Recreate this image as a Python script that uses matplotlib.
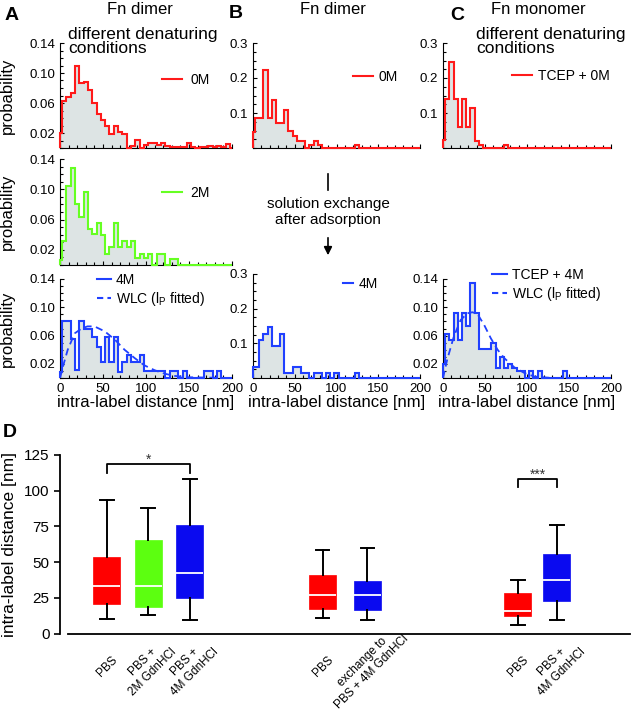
import numpy as np
import matplotlib
matplotlib.use("Agg")
import matplotlib.pyplot as plt
from matplotlib.lines import Line2D
from matplotlib.patches import FancyArrowPatch
from matplotlib.ticker import MultipleLocator, FormatStrFormatter

plt.rcParams['font.family'] = 'Liberation Sans'
plt.rcParams['mathtext.fontset'] = 'custom'
plt.rcParams['mathtext.rm'] = 'Liberation Sans'

# histogram values, bins centred on 0, 5, 10, ... 200 nm
hist_a_0m = [0.020, 0.063, 0.068, 0.073, 0.109, 0.087, 0.088, 0.078, 0.060, 0.046,
             0.037, 0.029, 0.019, 0.029, 0.022, 0.019, 0.000, 0.003, 0.011, 0.000,
             0.004, 0.007, 0.007, 0.004, 0.007, 0.003, 0.002, 0.001, 0.001, 0.001,
             0.007, 0.001, 0.000, 0.001, 0.002, 0.003, 0.001, 0.003, 0.002, 0.006,
             0.000]
hist_a_2m = [0.007, 0.032, 0.105, 0.128, 0.080, 0.064, 0.097, 0.048, 0.041, 0.056,
             0.040, 0.015, 0.024, 0.056, 0.024, 0.032, 0.024, 0.032, 0.009, 0.015,
             0.009, 0.015, 0.000, 0.015, 0.015, 0.000, 0.008, 0.008, 0.000, 0.000,
             0.000, 0.000, 0.000, 0.000, 0.000, 0.000, 0.000, 0.000, 0.000, 0.000,
             0.000]
hist_a_4m = [0.009, 0.080, 0.080, 0.055, 0.011, 0.080, 0.069, 0.069, 0.058, 0.044,
             0.022, 0.058, 0.022, 0.058, 0.009, 0.022, 0.033, 0.022, 0.022, 0.033,
             0.010, 0.010, 0.010, 0.010, 0.010, 0.000, 0.010, 0.010, 0.000, 0.010,
             0.000, 0.000, 0.000, 0.000, 0.010, 0.010, 0.000, 0.010, 0.000, 0.000,
             0.000]
hist_b_0m = [0.045, 0.086, 0.086, 0.222, 0.086, 0.136, 0.071, 0.071, 0.110, 0.048,
             0.033, 0.019, 0.019, 0.000, 0.008, 0.019, 0.008, 0.000, 0.000, 0.000,
             0.000, 0.000, 0.000, 0.000, 0.000, 0.008, 0.000, 0.000, 0.000, 0.000,
             0.000, 0.000, 0.000, 0.000, 0.000, 0.000, 0.000, 0.000, 0.000, 0.000,
             0.000]
hist_b_4m = [0.033, 0.033, 0.110, 0.128, 0.147, 0.093, 0.093, 0.128, 0.013, 0.013,
             0.033, 0.033, 0.013, 0.013, 0.000, 0.013, 0.013, 0.000, 0.013, 0.000,
             0.013, 0.000, 0.000, 0.000, 0.000, 0.013, 0.000, 0.000, 0.000, 0.000,
             0.000, 0.000, 0.000, 0.000, 0.000, 0.000, 0.000, 0.000, 0.000, 0.000,
             0.000]
hist_c_0m = [0.022, 0.140, 0.246, 0.140, 0.059, 0.140, 0.059, 0.114, 0.019, 0.008,
             0.000, 0.000, 0.000, 0.000, 0.000, 0.008, 0.000, 0.000, 0.000, 0.000,
             0.000, 0.000, 0.000, 0.000, 0.000, 0.000, 0.000, 0.000, 0.000, 0.000,
             0.000, 0.000, 0.000, 0.000, 0.000, 0.000, 0.000, 0.000, 0.000, 0.000,
             0.000]
hist_c_4m = [0.020, 0.062, 0.054, 0.092, 0.054, 0.092, 0.073, 0.134, 0.092, 0.041,
             0.041, 0.041, 0.049, 0.014, 0.030, 0.014, 0.020, 0.014, 0.010, 0.010,
             0.000, 0.010, 0.000, 0.010, 0.000, 0.000, 0.000, 0.000, 0.000, 0.010,
             0.000, 0.000, 0.000, 0.000, 0.000, 0.000, 0.000, 0.000, 0.000, 0.000,
             0.000]

# WLC fits
wlc_a_x = [0, 5, 9, 17, 25, 32, 40, 52, 64, 75, 87, 98, 110, 122, 133, 150, 200]
wlc_a_y = [0, 0.023, 0.040, 0.063, 0.070, 0.073, 0.073, 0.066, 0.054, 0.040,
           0.028, 0.018, 0.011, 0.006, 0.003, 0.001, 0]
wlc_c_x = [0, 5, 13, 21, 29, 35, 41, 49, 57, 65, 73, 85, 97, 109, 130, 200]
wlc_c_y = [0, 0.026, 0.059, 0.082, 0.0915, 0.093, 0.0906, 0.075, 0.056, 0.040,
           0.028, 0.015, 0.007, 0.002, 0, 0]

# panel D box plots
box_labels = ["PBS", "PBS +\n2M GdnHCl", "PBS +\n4M GdnHCl", "PBS",
              "exchange to\nPBS + 4M GdnHCl", "PBS", "PBS +\n4M GdnHCl"]
box_low = [10.0, 13.1, 9.3, 11.2, 9.3, 5.8, 9.3]
box_q1 = [20.8, 18.9, 24.7, 17.0, 16.6, 12.1, 22.9]
box_med = [33.3, 33.3, 42.7, 27.1, 27.3, 16.1, 37.3]
box_q3 = [53.4, 65.5, 76.0, 40.8, 37.1, 28.7, 55.5]
box_high = [93.5, 87.7, 108.2, 58.5, 59.7, 37.3, 76.0]

RED = '#ff1a1a'
GREEN = '#66ff22'
BLUE = '#2040ff'
FILL = '#dde4e4'
box_colors = ['#ff0000', '#5cff10', '#0a0af0', '#ff0000', '#0a0af0', '#ff0000', '#0a0af0']
box_pos = [1.0, 1.99, 3.0, 6.2, 7.27, 10.9, 11.84]

hist_edges = np.concatenate([[0], np.arange(2.5, 200, 5), [200]])

W, H = 633, 714
fig = plt.figure(figsize=(W / 100, H / 100), dpi=100)


def px_axes(left, top, right, bottom):
    return fig.add_axes([left / W, 1 - bottom / H, (right - left) / W, (bottom - top) / H])


def ftext(x, y, s, **kw):
    fig.text(x / W, 1 - y / H, s, **kw)


def hist_panel(ax, values, color, ymax, yticks, yminor, fmt, xlabels=False):
    ax.stairs(values, hist_edges, fill=True, color=FILL, lw=0)
    ax.stairs(values, hist_edges, color=color, lw=1.5, clip_on=False, zorder=3)
    ax.set_xlim(0, 200)
    ax.set_ylim(0, ymax)
    ax.spines[['top', 'right']].set_visible(False)
    ax.set_yticks(yticks)
    ax.yaxis.set_major_formatter(FormatStrFormatter(fmt))
    ax.yaxis.set_minor_locator(MultipleLocator(yminor))
    ax.set_xticks([0, 50, 100, 150, 200])
    ax.xaxis.set_minor_locator(MultipleLocator(10))
    ax.tick_params(which='both', direction='in', labelsize=9.5, length=3, width=0.8)
    ax.tick_params(which='minor', length=2)
    ax.patch.set_alpha(0)
    if xlabels:
        ax.set_xlabel('intra-label distance [nm]', fontsize=12)
    else:
        ax.tick_params(labelbottom=False)


def add_legend(ax, handles, x, y, hl, pad):
    ax.legend(handles=handles, loc='center left', bbox_to_anchor=(x, y), frameon=False,
              borderpad=0, borderaxespad=0, handlelength=hl, handletextpad=pad,
              labelspacing=0.25, fontsize=10)


def line_handle(color, label, dashed=False):
    return Line2D([], [], color=color, lw=1.5, ls=(0, (3, 2)) if dashed else '-', label=label)


wlc_label = r'WLC (l$_\mathrm{P}$ fitted)'

# ---- panel A
ax = px_axes(60, 43, 232, 148)
hist_panel(ax, hist_a_0m, RED, 0.14, [0.02, 0.06, 0.10, 0.14], 0.01, '%.2f')
ax.set_ylabel('probability', fontsize=12)
ax.yaxis.set_label_coords(-0.26, 0.5)
add_legend(ax, [line_handle(RED, '0M')], 0.593, 0.648, 1.45, 0.6)

ax = px_axes(60, 159, 232, 265)
hist_panel(ax, hist_a_2m, GREEN, 0.14, [0.02, 0.06, 0.10, 0.14], 0.01, '%.2f')
ax.set_ylabel('probability', fontsize=12)
ax.yaxis.set_label_coords(-0.26, 0.5)
add_legend(ax, [line_handle(GREEN, '2M')], 0.593, 0.682, 1.45, 0.6)

ax = px_axes(60, 279, 232, 378)
hist_panel(ax, hist_a_4m, BLUE, 0.14, [0.02, 0.06, 0.10, 0.14], 0.01, '%.2f', True)
ax.plot(wlc_a_x, wlc_a_y, color=BLUE, lw=1.3, ls=(0, (4, 2.5)), zorder=4)
ax.set_ylabel('probability', fontsize=12)
ax.yaxis.set_label_coords(-0.26, 0.5)
ax.xaxis.set_label_coords(0.5, -0.17)
add_legend(ax, [line_handle(BLUE, '4M'), line_handle(BLUE, wlc_label, True)],
           0.215, 0.884, 1.0, 0.35)

# ---- panel B
ax = px_axes(253, 43, 420, 148)
hist_panel(ax, hist_b_0m, RED, 0.3, [0.1, 0.2, 0.3], 0.025, '%.1f')
add_legend(ax, [line_handle(RED, '0M')], 0.599, 0.673, 1.45, 0.4)

ax = px_axes(253, 274, 420, 378)
hist_panel(ax, hist_b_4m, BLUE, 0.3, [0.1, 0.2, 0.3], 0.025, '%.1f', True)
ax.xaxis.set_label_coords(0.5, -0.163)
add_legend(ax, [line_handle(BLUE, '4M')], 0.539, 0.904, 0.75, 0.35)

# ---- panel C
ax = px_axes(443, 43, 611, 148)
hist_panel(ax, hist_c_0m, RED, 0.3, [0.1, 0.2, 0.3], 0.025, '%.1f')
add_legend(ax, [line_handle(RED, 'TCEP + 0M')], 0.41, 0.689, 1.45, 0.45)

ax = px_axes(443, 279, 611, 378)
hist_panel(ax, hist_c_4m, BLUE, 0.14, [0.02, 0.06, 0.10, 0.14], 0.01, '%.2f', True)
ax.plot(wlc_c_x, wlc_c_y, color=BLUE, lw=1.3, ls=(0, (4, 2.5)), zorder=4)
ax.xaxis.set_label_coords(0.5, -0.17)
add_legend(ax, [line_handle(BLUE, 'TCEP + 4M'), line_handle(BLUE, wlc_label, True)],
           0.29, 0.934, 1.1, 0.35)

# ---- titles and annotations
ftext(12, 15, 'A', fontsize=14, fontweight='bold', ha='center', va='center')
ftext(236, 14, 'B', fontsize=14, fontweight='bold', ha='center', va='center')
ftext(457, 15, 'C', fontsize=14, fontweight='bold', ha='center', va='center')
ftext(10, 433, 'D', fontsize=14, fontweight='bold', ha='center', va='center')
ftext(140, 9, 'Fn dimer', fontsize=12, ha='center', va='center')
ftext(333, 9, 'Fn dimer', fontsize=12, ha='center', va='center')
ftext(538, 9, 'Fn monomer', fontsize=12, ha='center', va='center')
ftext(68, 27, 'different denaturing\nconditions', fontsize=12.5, ha='left', va='top',
      linespacing=0.95)
ftext(476, 27, 'different denaturing\nconditions', fontsize=12.5, ha='left', va='top',
      linespacing=0.95)

fig.add_artist(Line2D([328 / W, 328 / W], [1 - 174 / H, 1 - 190 / H], color='k', lw=1.2))
ftext(328, 212, 'solution exchange\nafter adsorption', fontsize=11, ha='center',
      va='center', linespacing=1.15)
fig.add_artist(FancyArrowPatch((328 / W, 1 - 235 / H), (328 / W, 1 - 258 / H),
                               transform=fig.transFigure, arrowstyle='-|>',
                               mutation_scale=12, color='k', lw=1.2))

# ---- panel D
axd = px_axes(60, 455, 630, 633.7)
stats = [dict(whislo=lo, q1=a, med=m, q3=b, whishi=hi, fliers=[])
         for lo, a, m, b, hi in zip(box_low, box_q1, box_med, box_q3, box_high)]
bp = axd.bxp(stats, positions=box_pos, widths=0.65, patch_artist=True, showfliers=False,
             capwidths=0.32,
             medianprops=dict(color='white', lw=1.3),
             whiskerprops=dict(color='k', lw=1.4),
             capprops=dict(color='k', lw=1.4))
for patch, c in zip(bp['boxes'], box_colors):
    patch.set_facecolor(c)
    patch.set_edgecolor(c)
    patch.set_linewidth(0.5)

axd.set_xlim(-0.13, 13.6)
axd.set_ylim(0, 125)
axd.spines[['top', 'right']].set_visible(False)
axd.spines['bottom'].set_bounds(0.06, 13.6)
axd.spines['bottom'].set_linewidth(1.3)
axd.spines['left'].set_linewidth(1.3)
axd.set_yticks([0, 25, 50, 75, 100, 125])
axd.tick_params(axis='y', labelsize=11, length=4, width=1.2, direction='out')
axd.set_xticks(box_pos)
axd.set_xticklabels(box_labels, rotation=45, ha='center', va='center', rotation_mode='anchor',
                    multialignment='center', fontsize=8.5)
axd.tick_params(axis='x', length=0, pad=24)
axd.set_ylabel('intra-label distance [nm]', fontsize=12.5)
axd.yaxis.set_label_coords(-0.075, 0.5)
axd.patch.set_alpha(0)

# significance brackets
sig_pairs = [(0, 2, '*', 118.5, 112.6), (5, 6, '***', 108.0, 102.8)]
for i, j, mark, top, foot in sig_pairs:
    xi, xj = box_pos[i], box_pos[j]
    axd.plot([xi, xi, xj, xj], [foot, top, top, foot], color='k', lw=1.3, clip_on=False)
    axd.text((xi + xj) / 2, top - 1.5, mark, ha='center', va='bottom', fontsize=10,
             color='#333333')

fig.savefig('out.png', dpi=100)
